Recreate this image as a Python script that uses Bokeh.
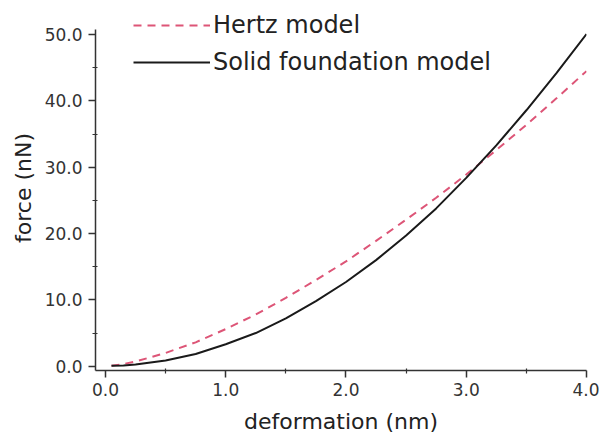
from bokeh.plotting import figure
from bokeh.models import Range1d, FixedTicker, Legend, LegendItem
from bokeh.embed import file_html
from bokeh.resources import INLINE

# data
deformation = [0.05, 0.15, 0.25, 0.5, 0.75, 1.0, 1.25, 1.5, 1.75, 2.0, 2.25,
               2.5, 2.75, 3.0, 3.25, 3.5, 3.75, 4.0]
hertz_force = [0.06, 0.33, 0.7, 2.0, 3.6, 5.6, 7.8, 10.3, 13.0, 15.8, 18.9,
               22.1, 25.4, 28.9, 32.6, 36.4, 40.4, 44.5]
solid_force = [0.05, 0.12, 0.25, 0.85, 1.85, 3.3, 5.0, 7.2, 9.8, 12.7, 16.0,
               19.7, 23.8, 28.4, 33.3, 38.6, 44.2, 50.1]

x_ticks = [0.0, 1.0, 2.0, 3.0, 4.0]
x_tick_labels = ["0.0", "1.0", "2.0", "3.0", "4.0"]
x_minor = [0.5, 1.5, 2.5, 3.5]
y_ticks = [0, 10, 20, 30, 40, 50]
y_tick_labels = ["0.0", "10.0", "20.0", "30.0", "40.0", "50.0"]
y_minor = [5, 15, 25, 35, 45]

series_names = ["Hertz model", "Solid foundation model"]
x_title = "deformation (nm)"
y_title = "force (nN)"

FONT = "DejaVu Sans"
AX = "#333333"

p = figure(width=599, height=443, output_backend="svg", toolbar_location=None,
           x_range=Range1d(-0.083, 4.0), y_range=Range1d(-0.65, 54.4),
           min_border_left=95, min_border_right=13, min_border_top=5,
           min_border_bottom=73)
p.outline_line_color = None
p.xgrid.visible = False
p.ygrid.visible = False
p.background_fill_color = "white"
p.border_fill_color = "white"

r_h = p.line(deformation, hertz_force, line_color="#dd5577", line_width=2,
             line_dash="8 6")
r_s = p.line(deformation, solid_force, line_color="#1a1a1a", line_width=2)

p.xaxis.ticker = FixedTicker(ticks=x_ticks, minor_ticks=x_minor)
p.yaxis.ticker = FixedTicker(ticks=y_ticks, minor_ticks=y_minor)
p.xaxis.major_label_overrides = {t: l for t, l in zip(x_ticks, x_tick_labels)}
p.yaxis.major_label_overrides = {t: l for t, l in zip(y_ticks, y_tick_labels)}
p.yaxis.bounds = (-0.65, 50.8)

for ax in (p.xaxis, p.yaxis):
    ax.axis_line_color = AX
    ax.axis_line_width = 1.5
    ax.major_tick_line_color = AX
    ax.minor_tick_line_color = AX
    ax.major_tick_line_width = 1.5
    ax.minor_tick_line_width = 1.2
    ax.major_tick_out = 7
    ax.major_tick_in = 0
    ax.minor_tick_out = 3
    ax.minor_tick_in = 2
    ax.major_label_text_font = FONT
    ax.major_label_text_font_size = "17px"
    ax.major_label_text_color = "#333333"
    ax.axis_label_text_font = FONT
    ax.axis_label_text_font_size = "22px"
    ax.axis_label_text_font_style = "normal"
    ax.axis_label_text_color = "#222222"

p.xaxis.axis_label = x_title
p.yaxis.axis_label = y_title
p.xaxis.major_label_standoff = 5
p.yaxis.major_label_standoff = 6
p.xaxis.axis_label_standoff = 10
p.yaxis.axis_label_standoff = 6

legend = Legend(items=[LegendItem(label=series_names[0], renderers=[r_h]),
                       LegendItem(label=series_names[1], renderers=[r_s])],
                location=(38, 293), orientation="vertical")
legend.border_line_color = None
legend.background_fill_alpha = 0
legend.padding = 0
legend.margin = 0
legend.spacing = 7
legend.glyph_width = 77
legend.glyph_height = 30
legend.label_height = 30
legend.label_standoff = 3
legend.label_text_font = FONT
legend.label_text_font_size = "24px"
legend.label_text_color = "#222222"
p.add_layout(legend, "center")

open("out.html", "w").write(file_html(p, INLINE))
